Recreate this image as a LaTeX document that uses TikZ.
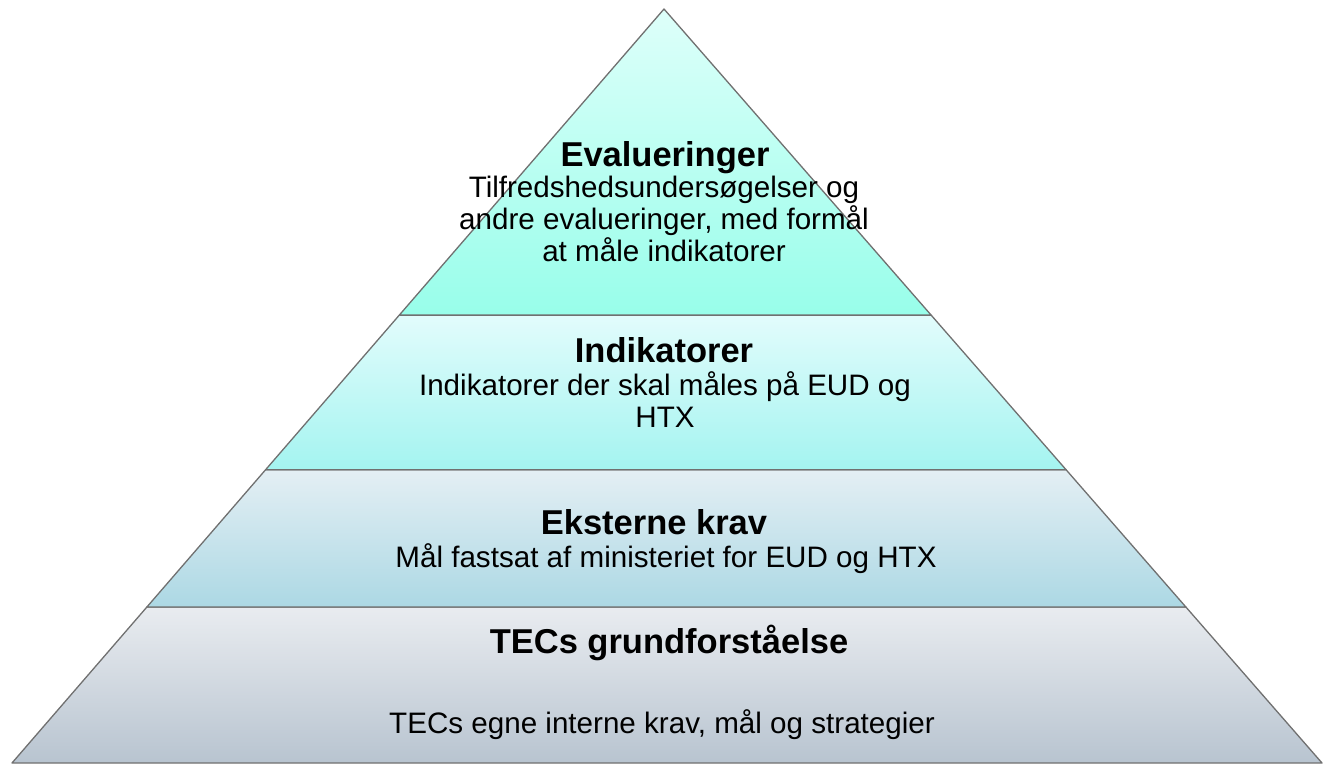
\documentclass[tikz,border=0pt]{standalone}
\usepackage{fontspec}
\setmainfont{Liberation Sans}
\usetikzlibrary{calc}

\definecolor{edgegray}{RGB}{112,112,112}
\definecolor{evalTop}{RGB}{222,255,250}
\definecolor{evalBot}{RGB}{152,254,234}
\definecolor{indTop}{RGB}{226,252,252}
\definecolor{indBot}{RGB}{164,244,240}
\definecolor{ekstTop}{RGB}{228,239,244}
\definecolor{ekstBot}{RGB}{172,216,228}
\definecolor{grundTop}{RGB}{233,236,240}
\definecolor{grundBot}{RGB}{184,196,208}

\begin{document}
\begin{tikzpicture}[%
  layer/.style = {draw = edgegray, line width = 1.3pt, line join = round},
  head/.style = {font = \fontsize{34.5}{38}\selectfont\bfseries, anchor = base, inner sep = 0pt},
  body/.style = {font = \fontsize{29.6}{32}\selectfont, anchor = base, align = center, inner sep = 0pt},
  x = 1pt, y = -1pt]
  \useasboundingbox (0, 0) rectangle (1327, 765);

  \coordinate (apex) at (664, 9);
  \coordinate (bl) at (12, 763);
  \coordinate (br) at (1322, 763);
  \coordinate (l1) at ($(apex)!0.406!(bl)$);
  \coordinate (r1) at ($(apex)!0.406!(br)$);
  \coordinate (l2) at ($(apex)!0.611!(bl)$);
  \coordinate (r2) at ($(apex)!0.611!(br)$);
  \coordinate (l3) at ($(apex)!0.793!(bl)$);
  \coordinate (r3) at ($(apex)!0.793!(br)$);

  % layers, bottom first
  \path[layer, top color = grundTop, bottom color = grundBot] (l3) -- (r3) -- (br) -- (bl) -- cycle;
  \path[layer, top color = ekstTop, bottom color = ekstBot] (l2) -- (r2) -- (r3) -- (l3) -- cycle;
  \path[layer, top color = indTop, bottom color = indBot] (l1) -- (r1) -- (r2) -- (l2) -- cycle;
  \path[layer, top color = evalTop, bottom color = evalBot] (apex) -- (r1) -- (l1) -- cycle;

  % base anchor of a wrapped text sits on its last line
  \node[head] (evalHead) at (665, 166) {Evalueringer};
  \node[body] (evalText) at (664, 261) {Tilfredshedsundersøgelser og\\andre evalueringer, med formål\\at måle indikatorer};

  \node[head] (indHead) at (664, 362) {Indikatorer};
  \node[body] (indText) at (665, 427) {Indikatorer der skal måles på EUD og\\HTX};

  \node[head] (ekstHead) at (654, 534) {Eksterne krav};
  \node[body] (ekstText) at (666, 567) {Mål fastsat af ministeriet for EUD og HTX};

  \node[head] (grundHead) at (669, 653) {TECs grundforståelse};
  \node[body] (grundText) at (662, 733) {TECs egne interne krav, mål og strategier};
\end{tikzpicture}
\end{document}
